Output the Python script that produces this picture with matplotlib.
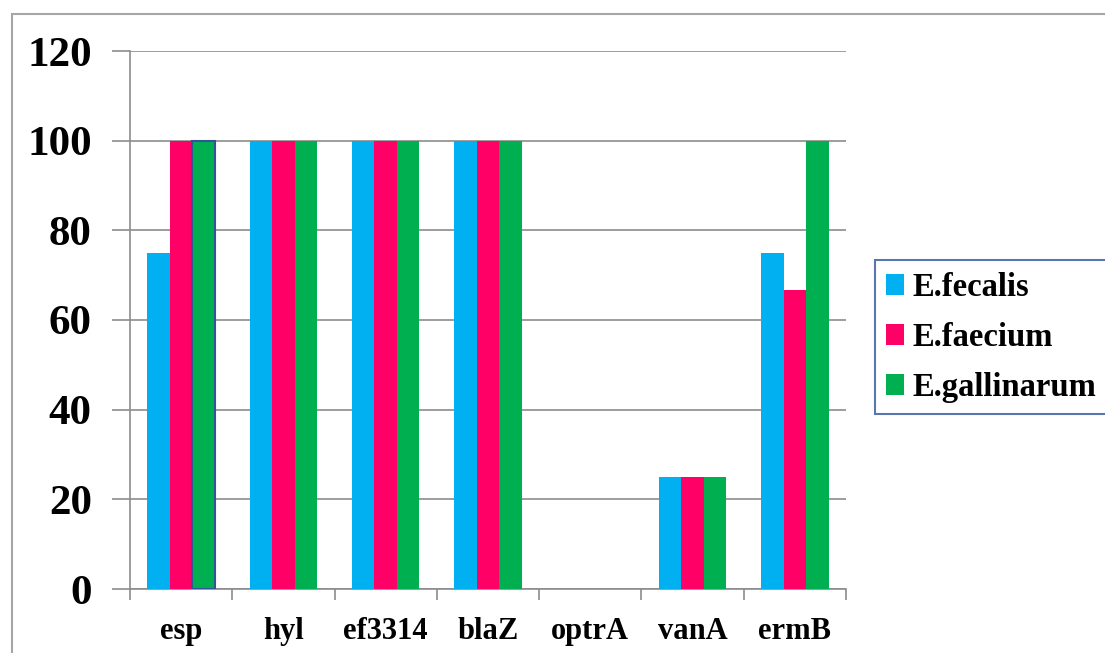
import matplotlib.pyplot as plt
import numpy as np
from matplotlib.patches import Rectangle, Patch

genes = ['esp', 'hyl', 'ef3314', 'blaZ', 'optrA', 'vanA', 'ermB']
fecalis = [75, 100, 100, 100, 0, 25, 75]
faecium = [100, 100, 100, 100, 0, 25, 66.7]
gallinarum = [100, 100, 100, 100, 0, 25, 100]
series_names = ['E.fecalis', 'E.faecium', 'E.gallinarum']
colors = ['#00B0F0', '#FF0066', '#00B050']

plt.rcParams['font.family'] = ['Liberation Serif', 'DejaVu Serif']
plt.rcParams['font.weight'] = 'bold'

fig = plt.figure(figsize=(11.05, 6.53), dpi=100)
ax = fig.add_axes([130 / 1105, 64 / 653, 716 / 1105, 538 / 653])

# outer grey frame
fig.patches.append(Rectangle((12 / 1105, -0.1), 1.2, (639 + 65) / 653,
                             transform=fig.transFigure, fill=False,
                             edgecolor='#A6A6A6', linewidth=1.5))

x = np.arange(len(genes))
w = 0.22
data = [fecalis, faecium, gallinarum]
for i, (vals, c) in enumerate(zip(data, colors)):
    bars = ax.bar(x + (i - 1) * w, vals, w, color=c, zorder=3)
    if i == 2:
        bars[0].set_edgecolor('#2F5597')
        bars[0].set_linewidth(1.5)

ax.set_xlim(-0.5, len(genes) - 0.5)
ax.set_ylim(0, 120)
ax.set_yticks(range(0, 121, 20))
ax.yaxis.grid(True, color='#8C8C8C', linewidth=1.2, zorder=0)
ax.set_axisbelow(True)

ax.set_xticks(x)
ax.set_xticklabels(genes, fontsize=22, fontweight='bold')
ax.set_xticks(np.arange(-0.5, len(genes), 1), minor=True)
ax.tick_params(axis='x', which='major', length=0, pad=20)
ax.tick_params(axis='x', which='minor', length=8, color='#8C8C8C', width=1.2)
ax.tick_params(axis='y', length=13, color='#8C8C8C', width=1.2, pad=14.5, labelsize=31)
for t in ax.get_yticklabels():
    t.set_fontweight('bold')

for s in ['top', 'right']:
    ax.spines[s].set_visible(False)
for s in ['left', 'bottom']:
    ax.spines[s].set_color('#8C8C8C')
    ax.spines[s].set_linewidth(1.2)

handles = [Patch(facecolor=c, label=n) for c, n in zip(colors, series_names)]
leg = ax.legend(handles=handles, loc='center left', bbox_to_anchor=(1.04, 0.468),
                prop={'family': 'Liberation Serif', 'weight': 'bold', 'size': 23.5},
                frameon=True, fancybox=False, handlelength=0.55, handleheight=0.6,
                handletextpad=0.25, labelspacing=0.58, borderpad=0.35, borderaxespad=0)
leg.get_frame().set_edgecolor('#2F5597')
leg.get_frame().set_linewidth(1.5)

plt.savefig('out.png', dpi=100)
